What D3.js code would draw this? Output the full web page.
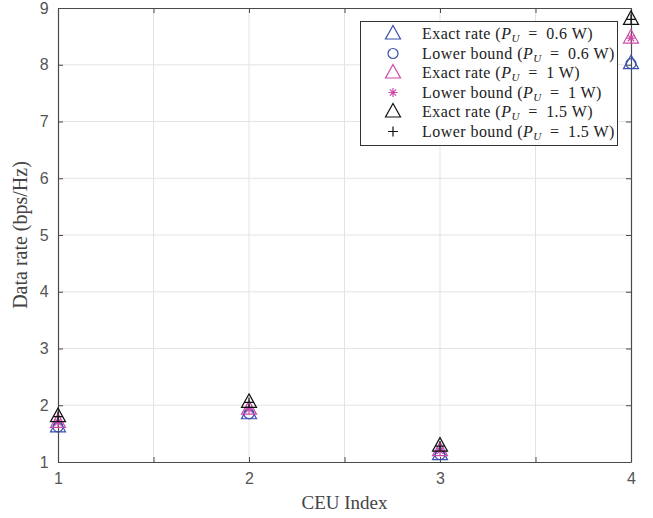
<!DOCTYPE html>
<html><head><meta charset="utf-8">
<script src="https://cdn.jsdelivr.net/npm/d3@7"></script>
<style>body{margin:0;background:#fff}</style>
</head><body>
<svg id="c" width="653" height="518"></svg>
<script>
const ceu = [1, 2, 3, 4];
const exact06 = [1.62, 1.85, 1.13, 8.02];
const lower06 = [1.62, 1.85, 1.13, 8.02];
const exact1 = [1.70, 1.93, 1.20, 8.47];
const lower1 = [1.70, 1.93, 1.20, 8.47];
const exact15 = [1.80, 2.05, 1.28, 8.80];
const lower15 = [1.80, 2.05, 1.28, 8.80];
const xTicks = [1, 1.5, 2, 2.5, 3, 3.5, 4];
const xLabels = [1, 2, 3, 4];
const yTicks = [1, 2, 3, 4, 5, 6, 7, 8, 9];

const blue = "#3a4fae", pink = "#cc4aa8", black = "#111";
const series = [
  {vals: exact06, sym: "tri", color: blue, label: "Exact rate (", p: "0.6"},
  {vals: lower06, sym: "circ", color: blue, label: "Lower bound (", p: "0.6"},
  {vals: exact1, sym: "tri", color: pink, label: "Exact rate (", p: "1"},
  {vals: lower1, sym: "star", color: pink, label: "Lower bound (", p: "1"},
  {vals: exact15, sym: "tri", color: black, label: "Exact rate (", p: "1.5"},
  {vals: lower15, sym: "plus", color: black, label: "Lower bound (", p: "1.5"},
];

const svg = d3.select("#c");
const L = 58, R = 631, T = 8, B = 462;
const x = d3.scaleLinear().domain([1, 4]).range([L, R]);
const y = d3.scaleLinear().domain([1, 9]).range([B, T]);

// grid
const g = svg.append("g");
g.selectAll(".gx").data(xTicks.slice(1, -1)).enter().append("line")
  .attr("x1", d => x(d)).attr("x2", d => x(d)).attr("y1", T).attr("y2", B)
  .attr("stroke", "#e3e3e3").attr("stroke-width", 1);
g.selectAll(".gy").data(yTicks.slice(1, -1)).enter().append("line")
  .attr("y1", d => y(d)).attr("y2", d => y(d)).attr("x1", L).attr("x2", R)
  .attr("stroke", "#e3e3e3").attr("stroke-width", 1);

// axes
const axCol = "#4a4a4a";
const xb = svg.append("g").attr("transform", `translate(0,${B})`)
  .call(d3.axisBottom(x).tickValues(xTicks).tickSizeInner(-5).tickSizeOuter(0)
    .tickFormat(d => xLabels.includes(d) ? d3.format("d")(d) : ""));
const xt = svg.append("g").attr("transform", `translate(0,${T})`)
  .call(d3.axisTop(x).tickValues(xTicks).tickSizeInner(-5).tickSizeOuter(0).tickFormat(""));
const yl = svg.append("g").attr("transform", `translate(${L},0)`)
  .call(d3.axisLeft(y).tickValues(yTicks).tickSizeInner(-5).tickSizeOuter(0).tickFormat(d3.format("d")));
const yr = svg.append("g").attr("transform", `translate(${R},0)`)
  .call(d3.axisRight(y).tickValues(yTicks).tickSizeInner(-5).tickSizeOuter(0).tickFormat(""));
[xb, xt, yl, yr].forEach(a => {
  a.selectAll("path").attr("stroke", axCol).attr("stroke-width", 1.2);
  a.selectAll("line").attr("stroke", axCol);
  a.selectAll("text").attr("fill", "#555").attr("font-family", "Liberation Sans, Arial, sans-serif").attr("font-size", 16);
});
xb.selectAll("text").attr("dy", "1.2em");
yl.selectAll("text").attr("dx", "-0.4em");

// labels
svg.append("text").attr("x", (L + R) / 2).attr("y", 509).attr("text-anchor", "middle")
  .attr("font-family", "Liberation Serif, serif").attr("font-size", 19).attr("fill", "#444").text("CEU Index");
svg.append("text").attr("transform", `translate(27,${(T + B) / 2}) rotate(-90)`).attr("text-anchor", "middle")
  .attr("font-family", "Liberation Serif, serif").attr("font-size", 20).attr("fill", "#444").text("Data rate (bps/Hz)");

function drawSym(sel, sym, color, cx, cy) {
  const gg = sel.append("g").attr("transform", `translate(${cx},${cy})`)
    .attr("fill", "none").attr("stroke", color).attr("stroke-width", 1.2);
  if (sym === "tri") {
    gg.append("path").attr("d", "M0,-8.5L7.5,5L-7.5,5Z");
  } else if (sym === "circ") {
    gg.append("circle").attr("r", 5);
  } else if (sym === "star") {
    const r = 4.5;
    gg.append("path").attr("d",
      `M0,${-r}L0,${r}M${-r},0L${r},0M${-r*0.7},${-r*0.7}L${r*0.7},${r*0.7}M${-r*0.7},${r*0.7}L${r*0.7},${-r*0.7}`);
  } else if (sym === "plus") {
    const r = 5;
    gg.append("path").attr("d", `M0,${-r}L0,${r}M${-r},0L${r},0`);
  }
}

// data marks
const marks = svg.append("g");
series.forEach(s => {
  s.vals.forEach((v, i) => drawSym(marks, s.sym, s.color, x(ceu[i]), y(v)));
});

// legend
const lg = svg.append("g");
lg.append("rect").attr("x", 360.5).attr("y", 21.5).attr("width", 257).attr("height", 124)
  .attr("fill", "#fff").attr("stroke", "#333").attr("stroke-width", 1);
series.forEach((s, i) => {
  const yy = 34 + i * 19.5;
  drawSym(lg, s.sym, s.color, 393, yy);
  const t = lg.append("text").attr("x", 422).attr("y", yy + 5)
    .attr("font-family", "Liberation Serif, serif").attr("font-size", 16).attr("fill", "#222")
    .attr("letter-spacing", 0.45).attr("xml:space", "preserve");
  t.append("tspan").text(s.label);
  t.append("tspan").attr("font-style", "italic").text("P");
  t.append("tspan").attr("font-style", "italic").attr("font-size", 11).attr("dy", 3).text("U");
  t.append("tspan").attr("dy", -3).text("\u2002=\u2002" + s.p + " W)");
});
</script>
</body></html>
